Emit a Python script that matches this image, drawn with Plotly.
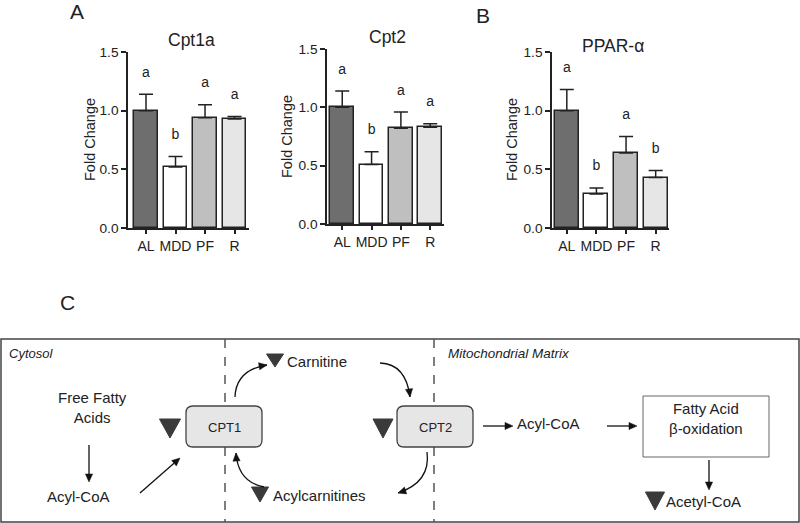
import plotly.graph_objects as go

# ---- data ----
groups = ["AL", "MDD", "PF", "R"]
bar_colors = ["#6e6e6e", "#ffffff", "#bfbfbf", "#e6e6e6"]

cpt1a_mean = [1.00, 0.52, 0.94, 0.93]
cpt1a_sem = [0.14, 0.09, 0.11, 0.02]
cpt1a_letters = ["a", "b", "a", "a"]

cpt2_mean = [1.00, 0.51, 0.82, 0.83]
cpt2_sem = [0.14, 0.11, 0.14, 0.03]
cpt2_letters = ["a", "b", "a", "a"]

ppara_mean = [1.00, 0.29, 0.64, 0.43]
ppara_sem = [0.18, 0.05, 0.14, 0.06]
ppara_letters = ["a", "b", "a", "b"]

y_ticks = [0.0, 0.5, 1.0, 1.5]
y_ticktext = ["0.0", "0.5", "1.0", "1.5"]

W, H = 800, 523
FONT = "Liberation Sans, Arial, sans-serif"
INK = "#222222"


def px_x(a, b):
    return [a / W, b / W]


def px_y(top, bottom):
    return [1 - bottom / H, 1 - top / H]


panels = [
    # (mean, sem, letters, x-domain px, y-domain px, x-range)
    (cpt1a_mean, cpt1a_sem, cpt1a_letters, (128, 249), (52, 228), [-0.61, 3.49]),
    (cpt2_mean, cpt2_sem, cpt2_letters, (327, 444), (49, 224), [-0.52, 3.47]),
    (ppara_mean, ppara_sem, ppara_letters, (552, 669), (52, 228), [-0.5, 3.45]),
]

fig = go.Figure()
layout_axes = {}

for i, (mean, sem, letters, xd, yd, xr) in enumerate(panels, start=1):
    xa = "x" if i == 1 else f"x{i}"
    ya = "y" if i == 1 else f"y{i}"
    fig.add_trace(
        go.Bar(
            x=groups,
            y=mean,
            width=0.81,
            marker=dict(color=bar_colors, line=dict(color=INK, width=1.5)),
            error_y=dict(
                type="data",
                symmetric=False,
                array=sem,
                arrayminus=[0] * len(sem),
                color=INK,
                thickness=1.5,
                width=7,
            ),
            xaxis=xa,
            yaxis=ya,
            showlegend=False,
            hoverinfo="skip",
        )
    )
    fig.add_trace(
        go.Scatter(
            x=groups,
            y=[m + s + 0.18 for m, s in zip(mean, sem)],
            text=letters,
            mode="text",
            textfont=dict(family=FONT, size=14, color=INK),
            xaxis=xa,
            yaxis=ya,
            showlegend=False,
            hoverinfo="skip",
            cliponaxis=False,
        )
    )
    xkey = "xaxis" if i == 1 else f"xaxis{i}"
    ykey = "yaxis" if i == 1 else f"yaxis{i}"
    layout_axes[xkey] = dict(
        domain=px_x(*xd),
        anchor=ya,
        type="category",
        range=xr,
        showline=True,
        linewidth=1.5,
        linecolor=INK,
        ticks="outside",
        ticklen=4,
        tickwidth=1.5,
        tickcolor=INK,
        showgrid=False,
        zeroline=False,
        automargin=False,
        tickfont=dict(family=FONT, size=14, color=INK),
        fixedrange=True,
    )
    layout_axes[ykey] = dict(
        domain=px_y(*yd),
        anchor=xa,
        range=[0, 1.5],
        tickvals=y_ticks,
        ticktext=y_ticktext,
        ticks="outside",
        ticklen=5,
        tickwidth=1.5,
        tickcolor=INK,
        showline=True,
        linewidth=1.5,
        linecolor=INK,
        showgrid=False,
        zeroline=False,
        automargin=False,
        tickfont=dict(family=FONT, size=13.7, color=INK),
        fixedrange=True,
    )

# diagram canvas in pixel-like units
layout_axes["xaxis4"] = dict(domain=[0, 1], range=[0, W], visible=False, fixedrange=True,
                             anchor="y4", automargin=False)
layout_axes["yaxis4"] = dict(domain=[0, 1], range=[H, 0], visible=False, fixedrange=True,
                             anchor="x4", automargin=False)
fig.add_trace(go.Scatter(x=[0], y=[0], xaxis="x4", yaxis="y4", mode="markers",
                         marker=dict(opacity=0), showlegend=False, hoverinfo="skip"))

shapes = []
annotations = []


def text(x, y, s, size=15, xanchor="center", color=INK):
    annotations.append(dict(x=x, y=y, xref="x4", yref="y4", text=s, showarrow=False,
                            xanchor=xanchor, yanchor="middle", borderpad=0,
                            font=dict(family=FONT, size=size, color=color)))


def tri(cx, top, w, h):
    shapes.append(dict(type="path", xref="x4", yref="y4",
                       path=f"M {cx - w / 2} {top} L {cx + w / 2} {top} L {cx} {top + h} Z",
                       fillcolor="#3a3a3a", line=dict(color="#3a3a3a", width=1)))


def head(tx, ty, fx, fy, length=8, half=3.6):
    # arrowhead with tip at (tx, ty), pointing away from (fx, fy)
    dx, dy = tx - fx, ty - fy
    n = (dx * dx + dy * dy) ** 0.5
    ux, uy = dx / n, dy / n
    bx, by = tx - ux * length, ty - uy * length
    px_, py_ = -uy * half, ux * half
    shapes.append(dict(type="path", xref="x4", yref="y4",
                       path=f"M {tx} {ty} L {bx + px_} {by + py_} L {bx - px_} {by - py_} Z",
                       fillcolor="#111111", line=dict(color="#111111", width=0.5)))
    return bx, by


def arrow(x0, y0, x1, y1):
    bx, by = head(x1, y1, x0, y0)
    shapes.append(dict(type="line", xref="x4", yref="y4", x0=x0, y0=y0, x1=bx, y1=by,
                       line=dict(color="#111111", width=1.3)))


def curve(x0, y0, cx, cy, x1, y1):
    shapes.append(dict(type="path", xref="x4", yref="y4",
                       path=f"M {x0} {y0} Q {cx} {cy} {x1} {y1}",
                       line=dict(color="#111111", width=1.3)))
    head(x1, y1, cx, cy)


def rounded(x0, y0, x1, y1, r=7):
    p = (f"M {x0 + r} {y0} L {x1 - r} {y0} Q {x1} {y0} {x1} {y0 + r} "
         f"L {x1} {y1 - r} Q {x1} {y1} {x1 - r} {y1} L {x0 + r} {y1} "
         f"Q {x0} {y1} {x0} {y1 - r} L {x0} {y0 + r} Q {x0} {y0} {x0 + r} {y0} Z")
    shapes.append(dict(type="path", xref="x4", yref="y4", path=p,
                       fillcolor="#e6e6e6", line=dict(color="#444444", width=1.3)))


# outer frame and membranes
shapes.append(dict(type="rect", xref="x4", yref="y4", x0=1, y0=339, x1=799, y1=522,
                   line=dict(color="#444444", width=1.5)))
for xm in (225, 434):
    shapes.append(dict(type="line", xref="x4", yref="y4", x0=xm, y0=339, x1=xm, y1=522,
                       line=dict(color="#555555", width=1.5, dash="dash")))

rounded(186, 406, 262, 447)
rounded(397, 406, 473, 447)
shapes.append(dict(type="rect", xref="x4", yref="y4", x0=643, y0=396, x1=769, y1=457,
                   fillcolor="white", line=dict(color="#666666", width=1)))

tri(170, 419, 21, 19)
tri(383, 419, 20, 19)
tri(275, 354, 17, 13)
tri(260, 487, 17, 15)
tri(655, 492, 19, 18)

arrow(89, 445, 89, 482)
arrow(140, 493, 180, 458)
arrow(483, 426, 513, 426)
arrow(607, 426, 637, 426)
arrow(709, 460, 709, 490)
curve(235, 397, 236, 370, 267, 365)
curve(264, 487, 238, 482, 236, 453)
curve(380, 363, 406, 364, 410, 397)
curve(427, 452, 431, 482, 398, 493)

text(8, 353, "<i>Cytosol</i>", size=13, xanchor="left")
text(447, 353, "<i>Mitochondrial Matrix</i>", size=13.5, xanchor="left")
text(92, 407, "Free Fatty<br>Acids")
text(78, 496, "Acyl-CoA")
text(224, 427, "CPT1", size=13)
text(435, 427, "CPT2", size=13)
text(286, 361, "Carnitine", xanchor="left")
text(272, 495, "Acylcarnitines", xanchor="left")
text(548, 423, "Acyl-CoA")
text(706, 418, "Fatty Acid<br>β-oxidation")
text(665, 501, "Acetyl-CoA", xanchor="left")

# panel titles, y titles, panel letters
text(191, 40, "Cpt1a", size=17.5)
text(387, 37, "Cpt2", size=17.5)
text(613, 46, "PPAR-α", size=17.5)
for xt, yt in ((90, 140), (287, 137), (512, 140)):
    annotations.append(dict(x=xt, y=yt, xref="x4", yref="y4", text="Fold Change",
                            showarrow=False, textangle=-90,
                            font=dict(family=FONT, size=14.5, color=INK)))
text(77, 11, "A", size=21)
text(483, 15, "B", size=21)
text(67, 302, "C", size=21)

fig.update_layout(
    width=W,
    height=H,
    margin=dict(l=0, r=0, t=0, b=0, autoexpand=False),
    paper_bgcolor="white",
    plot_bgcolor="rgba(0,0,0,0)",
    shapes=shapes,
    annotations=annotations,
    bargap=0,
    **layout_axes,
)

fig.write_html(
    "out.html",
    config={"displayModeBar": False},
    post_script="document.body.style.margin='0';document.body.style.overflow='hidden';",
)
